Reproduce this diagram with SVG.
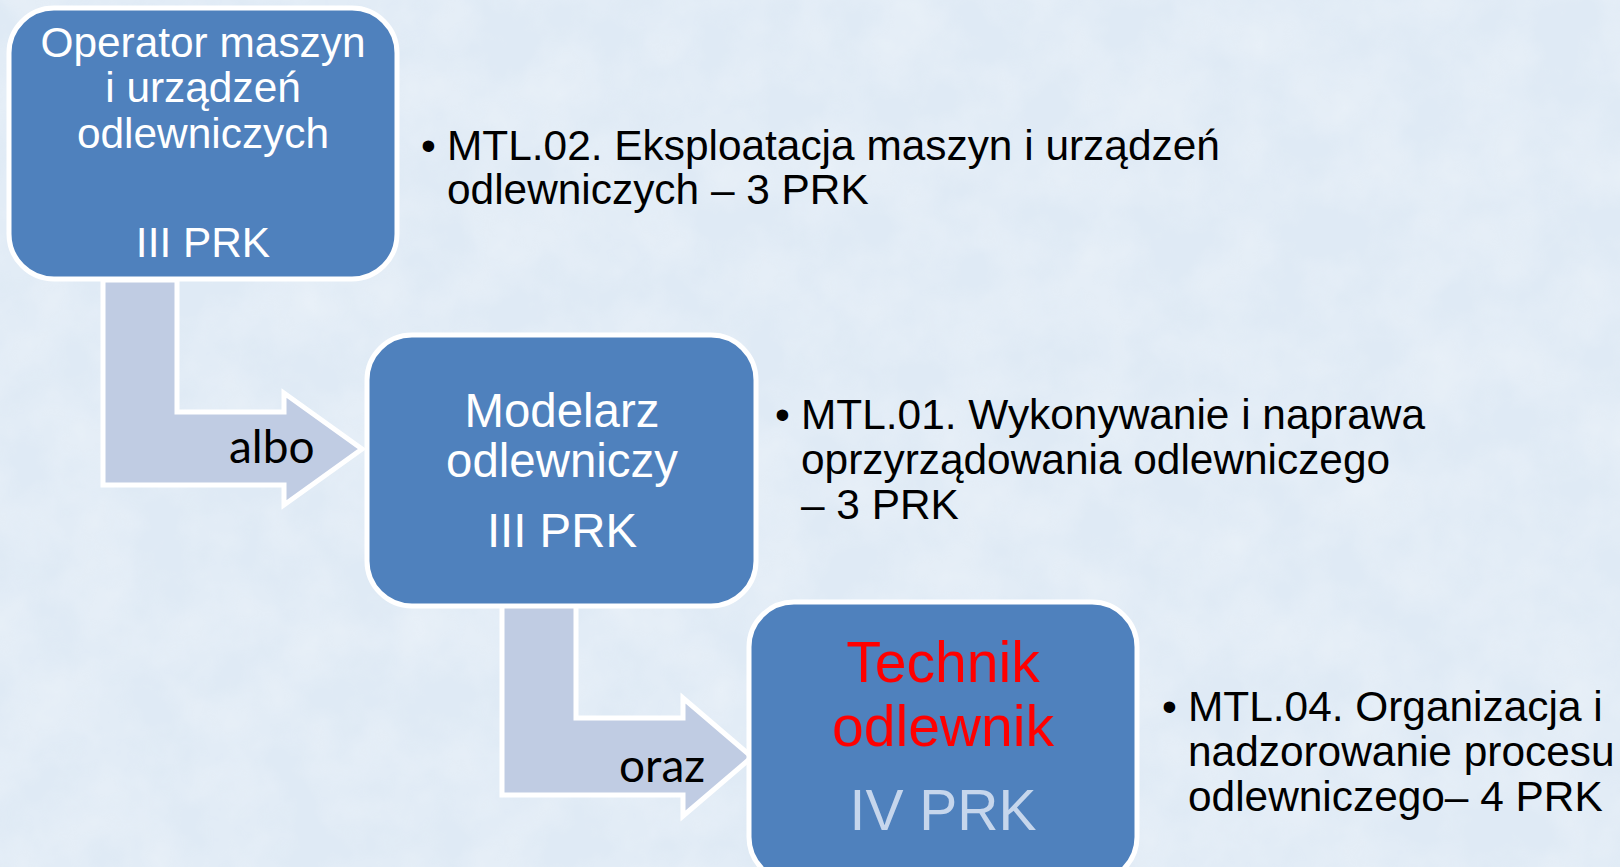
<svg xmlns="http://www.w3.org/2000/svg" width="1620" height="867" viewBox="0 0 1620 867">
<defs>
<filter id="tex" x="0" y="0" width="100%" height="100%">
<feTurbulence type="fractalNoise" baseFrequency="0.015" numOctaves="4" seed="7"/>
<feColorMatrix values="0 0 0 0 1  0 0 0 0 1  0 0 0 0 1  0 0 0 0.9 -0.25"/>
</filter>
<style>
.box{fill:#4F81BD;stroke:#FFFFFF;stroke-width:5}
.arr{fill:#C0CCE3;stroke:#FFFFFF;stroke-width:5;stroke-linejoin:miter}
.bt{font-family:"Liberation Sans",Arial,sans-serif;fill:#FFFFFF;text-anchor:middle}
.lbl{font-family:Lato,"Open Sans",sans-serif;fill:#000000;font-size:46px}
.bul{font-family:"Liberation Sans",Arial,sans-serif;fill:#000000;font-size:42.4px}
</style>
</defs>
<rect x="0" y="0" width="1620" height="867" fill="#DFEAF5"/>
<rect x="0" y="0" width="1620" height="867" filter="url(#tex)" opacity="0.5"/>
<g id="connectors">
<polygon class="arr" points="103,280 177,280 177,412 284,412 284,393 362,449 284,505 284,485 103,485"/>
<text class="lbl" x="229" y="463">albo</text>
<polygon class="arr" points="502,604 576,604 576,718 683,718 683,698 752,757 683,816 683,795 502,795"/>
<text class="lbl" x="619" y="782">oraz</text>
</g>
<g id="node-operator">
<rect class="box" x="9" y="8" width="388" height="271" rx="45" ry="45"/>
<text class="bt" font-size="42.4" x="203"><tspan x="203" y="57">Operator maszyn</tspan><tspan x="203" y="102">i urządzeń</tspan><tspan x="203" y="148">odlewniczych</tspan><tspan x="203" y="257">III PRK</tspan></text>
</g>
<g id="node-modelarz">
<rect class="box" x="367" y="335" width="389" height="271" rx="45" ry="45"/>
<text class="bt" font-size="47.4" x="562"><tspan x="562" y="427">Modelarz</tspan><tspan x="562" y="477">odlewniczy</tspan><tspan x="562" y="547">III PRK</tspan></text>
</g>
<g id="node-technik">
<rect class="box" x="749" y="602" width="388" height="280" rx="45" ry="45"/>
<text class="bt" font-size="57" x="943"><tspan x="943" y="682" fill="#FF0000">Technik</tspan><tspan x="943" y="746" fill="#FF0000">odlewnik</tspan><tspan x="943" y="830" fill="#C6D6EC">IV PRK</tspan></text>
</g>
<g id="desc-mtl02">
<text class="bul" x="421" y="160">•</text>
<text class="bul"><tspan x="447" y="160">MTL.02. Eksploatacja maszyn i urządzeń</tspan><tspan x="447" y="204">odlewniczych – 3 PRK</tspan></text>
</g>
<g id="desc-mtl01">
<text class="bul" x="775" y="429">•</text>
<text class="bul"><tspan x="801" y="429">MTL.01. Wykonywanie i naprawa</tspan><tspan x="801" y="474">oprzyrządowania odlewniczego</tspan><tspan x="801" y="519">– 3 PRK</tspan></text>
</g>
<g id="desc-mtl04">
<text class="bul" x="1162" y="721">•</text>
<text class="bul"><tspan x="1188" y="721">MTL.04. Organizacja i</tspan><tspan x="1188" y="766">nadzorowanie procesu</tspan><tspan x="1188" y="811">odlewniczego– 4 PRK</tspan></text>
</g>
</svg>
